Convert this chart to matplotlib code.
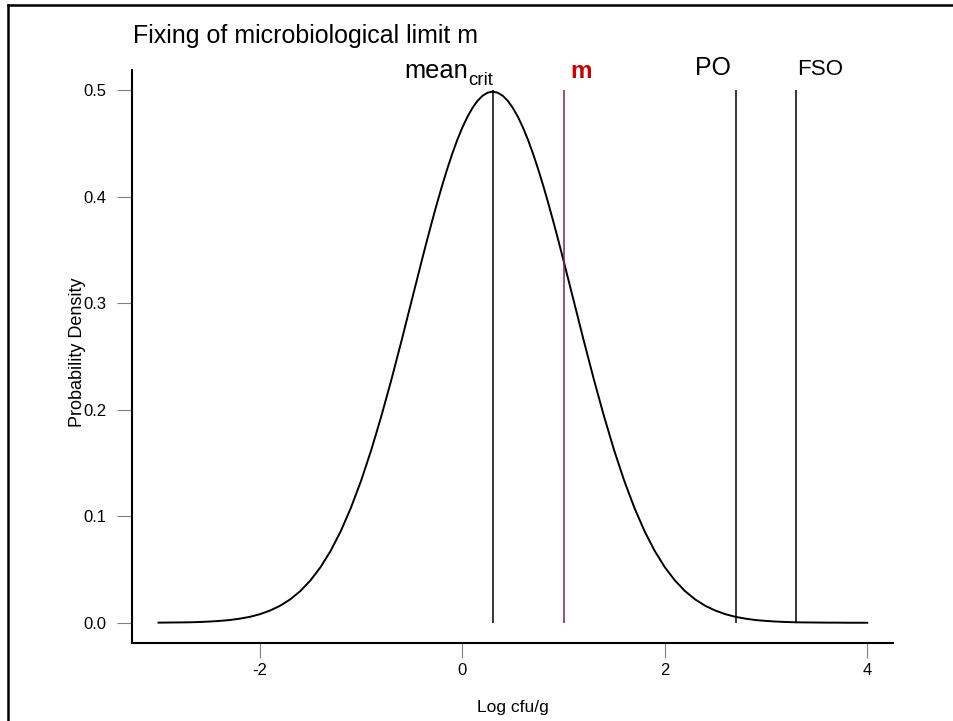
import numpy as np
import matplotlib
matplotlib.use('Agg')
import matplotlib.pyplot as plt
from matplotlib.lines import Line2D

plt.rcParams['font.family'] = ['Liberation Sans', 'DejaVu Sans']
plt.rcParams['axes.unicode_minus'] = False

# log cfu/g sampling points of the density curve
# (step 0.1 on the flanks, 0.05 round the peak)
log_cfu = np.concatenate([
    np.linspace(-3.0, -0.4, 27),
    np.linspace(-0.35, 0.95, 27),
    np.linspace(1.0, 4.0, 31),
])
# probability density
density = [
    # -3.0 .. -0.4
    0.0001, 0.0002, 0.0003, 0.0004, 0.0007, 0.0011, 0.0017, 0.0025, 0.0038, 0.0055,
    0.0080, 0.0114, 0.0159, 0.0219, 0.0297, 0.0397, 0.0522, 0.0675, 0.0860, 0.1079,
    0.1332, 0.1619, 0.1938, 0.2283, 0.2648, 0.3025, 0.3401,
    # -0.35 .. 0.95
    0.3585, 0.3764, 0.3937, 0.4102, 0.4257, 0.4401, 0.4532, 0.4648, 0.4749, 0.4833,
    0.4900, 0.4948, 0.4977, 0.4987, 0.4977, 0.4948, 0.4900, 0.4833, 0.4749, 0.4648,
    0.4532, 0.4401, 0.4257, 0.4102, 0.3937, 0.3764, 0.3585,
    # 1.0 .. 4.0
    0.3401, 0.3025, 0.2648, 0.2283, 0.1938, 0.1619, 0.1332, 0.1079, 0.0860, 0.0675,
    0.0522, 0.0397, 0.0297, 0.0219, 0.0159, 0.0114, 0.0080, 0.0055, 0.0038, 0.0025,
    0.0017, 0.0011, 0.0007, 0.0004, 0.0003, 0.0002, 0.0001, 0.0001, 0.0000, 0.0000,
    0.0000,
]

# vertical reference lines
mean_crit = 0.3
m_limit = 1.0
po = 2.7
fso = 3.3
line_top = 0.5

xticks = [-2, 0, 2, 4]
yticks = [0.0, 0.1, 0.2, 0.3, 0.4, 0.5]

W, H = 954, 721
fig = plt.figure(figsize=(W / 100, H / 100), dpi=100)

# axes box in pixels: left 131.7, right 893, top 70, bottom 643.3
ax = fig.add_axes([131.7 / W, (H - 643.3) / H, (893 - 131.7) / W, (643.3 - 70) / H])
ax.set_xlim(-3.265, 4.254)
ax.set_ylim(-0.0193, 0.519)

ax.plot(log_cfu, density, color='black', lw=1.4, solid_joinstyle='round')
ax.vlines([mean_crit, po, fso], 0, line_top, color='black', lw=1.1)
ax.vlines([m_limit], 0, line_top, color='#8a1a4a', lw=1.1)

# labels over the lines
ax.text(0.056, 0.5115, 'mean', ha='right', va='baseline', fontsize=18.4, clip_on=False)
ax.text(0.056, 0.5049, 'crit', ha='left', va='baseline', fontsize=13.5, clip_on=False)
ax.text(1.177, 0.5112, 'm', ha='center', va='baseline', fontsize=17.5,
        fontweight='bold', color='#cc0000', clip_on=False)
ax.text(2.476, 0.5143, 'PO', ha='center', va='baseline', fontsize=17.9, clip_on=False)
ax.text(3.530, 0.5143, 'FSO', ha='center', va='baseline', fontsize=16.1, clip_on=False)

for s in ['top', 'right']:
    ax.spines[s].set_visible(False)
for s in ['left', 'bottom']:
    ax.spines[s].set_linewidth(1.5)
    ax.spines[s].set_capstyle('projecting')

ax.set_xticks(xticks)
ax.set_xticklabels([str(t) for t in xticks])
ax.set_yticks(yticks)
ax.set_yticklabels(['%.1f' % t for t in yticks])
ax.tick_params(axis='both', direction='out', length=10.8, width=0.8,
               color='#808080', labelsize=12)
ax.tick_params(axis='y', pad=7.2)
ax.tick_params(axis='x', pad=3.6)

# title and axis titles
fig.text(133 / W, (H - 43.3) / H, 'Fixing of microbiological limit m',
         ha='left', va='baseline', fontsize=18)
fig.text(513 / W, (H - 711.7) / H, 'Log cfu/g', ha='center', va='baseline', fontsize=12.5)
fig.text(77 / W, (H - 352.4) / H, 'Probability Density', rotation=90,
         ha='center', va='center', fontsize=13)

# outer frame (left and top edges)
fig.add_artist(Line2D([8.3 / W, 8.3 / W], [0, (H - 5.3) / H], color='black', lw=1.8,
                      transform=fig.transFigure, solid_capstyle='projecting'))
fig.add_artist(Line2D([8.3 / W, 1.0], [(H - 5.3) / H, (H - 5.3) / H], color='black', lw=1.8,
                      transform=fig.transFigure, solid_capstyle='projecting'))

fig.savefig('out.png', dpi=100)
